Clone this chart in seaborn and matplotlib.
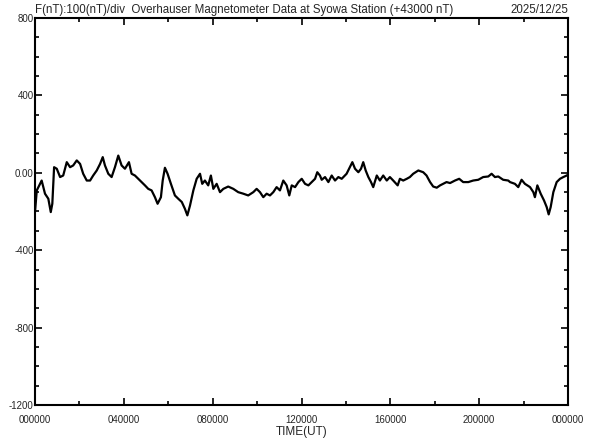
import matplotlib
matplotlib.use("Agg")
import matplotlib.pyplot as plt
import pandas as pd
import seaborn as sns
from matplotlib.ticker import FixedLocator, FixedFormatter, MultipleLocator

# Total field F minus 43000 nT (time in hours UT)
hours = [
    0.00, 0.08, 0.30, 0.45, 0.60, 0.71, 0.78, 0.86, 0.98, 1.13, 1.27, 1.43, 1.58, 1.72,
    1.88, 2.03, 2.17, 2.33, 2.48, 2.62, 2.78, 2.93, 3.05, 3.15, 3.30, 3.45, 3.60, 3.75,
    3.90, 4.05, 4.23, 4.35, 4.50, 4.65, 4.80, 4.95, 5.10, 5.25, 5.40, 5.52, 5.67, 5.75,
    5.85, 5.97, 6.12, 6.30, 6.45, 6.61, 6.75, 6.86, 6.98, 7.13, 7.28, 7.43, 7.53, 7.65,
    7.80, 7.92, 8.03, 8.18, 8.33, 8.48, 8.70, 8.93, 9.15, 9.38, 9.60, 9.83, 9.98, 10.13,
    10.28, 10.43, 10.58, 10.73, 10.88, 11.03, 11.18, 11.33, 11.45, 11.56, 11.71, 11.86,
    12.01, 12.16, 12.31, 12.46, 12.61, 12.71, 12.83, 12.91, 13.06, 13.21, 13.36, 13.51,
    13.66, 13.81, 14.03, 14.18, 14.29, 14.41, 14.56, 14.68, 14.78, 14.89, 15.01, 15.13,
    15.23, 15.39, 15.53, 15.68, 15.84, 15.98, 16.13, 16.33, 16.43, 16.58, 16.74, 16.88,
    17.03, 17.26, 17.48, 17.63, 17.79, 17.93, 18.09, 18.24, 18.38, 18.53, 18.69, 18.91,
    19.10, 19.28, 19.51, 19.73, 19.96, 20.18, 20.41, 20.56, 20.71, 20.86, 21.08, 21.31,
    21.39, 21.61, 21.76, 21.91, 22.06, 22.29, 22.44, 22.51, 22.62, 22.77, 22.92, 23.04,
    23.13, 23.22, 23.34, 23.49, 23.64, 23.79, 23.94, 24.00,
]
field = [
    -203, -91, -40, -108, -134, -203, -160, 29, 21, -22, -14, 55, 29, 38,
    64, 46, -5, -40, -40, -14, 12, 46, 81, 38, -5, -22, 29, 89,
    38, 21, 55, -5, -14, -31, -48, -65, -83, -91, -126, -160, -126, -40,
    26, -5, -57, -117, -134, -151, -186, -220, -169, -91, -31, -5, -57, -40,
    -65, -14, -83, -57, -100, -83, -71, -83, -100, -108, -117, -100, -83, -100,
    -126, -108, -117, -100, -74, -91, -40, -65, -117, -65, -74, -48,
    -31, -57, -65, -48, -31, 3, -14, -36, -22, -48, -14, -40,
    -22, -31, -5, 29, 55, 21, 3, 21, 55, 12, -22, -48,
    -74, -14, -40, -14, -40, -22, -40, -65, -31, -40, -31, -22,
    -5, 12, 3, -14, -48, -71, -77, -65, -57, -48, -53, -40,
    -31, -48, -48, -40, -36, -22, -19, -5, -22, -19, -36, -40,
    -48, -57, -74, -36, -57, -74, -100, -126, -65, -108, -143, -177,
    -215, -177, -100, -48, -31, -22, -14, -10,
]

x_ticks = [0, 4, 8, 12, 16, 20, 24]
x_labels = ["000000", "040000", "080000", "120000", "160000", "200000", "000000"]
y_ticks = [-1200, -800, -400, 0, 400, 800]
y_labels = ["-1200", "-800", "-400", "0.00", "400", "800"]

title_text = "F(nT):100(nT)/div  Overhauser Magnetometer Data at Syowa Station (+43000 nT)"
date_text = "2025/12/25"

sns.set_style("ticks")
plt.rcParams["font.family"] = ["Liberation Sans", "DejaVu Sans"]

df = pd.DataFrame({"hour": hours, "F": field})

fig = plt.figure(figsize=(5.92, 4.40), dpi=100)
ax = fig.add_axes([35 / 592, 1 - 405 / 440, 533 / 592, 387 / 440])
sns.lineplot(data=df, x="hour", y="F", color="black", linewidth=1.6, ax=ax)

ax.set_xlim(0, 24)
ax.set_ylim(-1200, 800)
ax.xaxis.set_major_locator(FixedLocator(x_ticks))
ax.xaxis.set_major_formatter(FixedFormatter(x_labels))
ax.xaxis.set_minor_locator(MultipleLocator(2))
ax.yaxis.set_major_locator(FixedLocator(y_ticks))
ax.yaxis.set_major_formatter(FixedFormatter(y_labels))
ax.yaxis.set_minor_locator(MultipleLocator(100))

for side in ["left", "right", "top", "bottom"]:
    ax.spines[side].set_visible(True)
    ax.spines[side].set_linewidth(1.5)
    ax.spines[side].set_color("black")

ax.tick_params(which="both", direction="in", top=True, right=True, color="black", width=1.2)
ax.tick_params(which="major", length=5, labelsize=7, pad=1)
ax.tick_params(which="minor", length=3)
ax.tick_params(axis="x", which="major", pad=7)

ax.set_xlabel("TIME(UT)", fontsize=8.5, labelpad=1)
ax.set_ylabel("")

ax.text(0, 1.005, title_text, transform=ax.transAxes, fontsize=8.3,
        ha="left", va="bottom")
ax.text(1, 1.005, date_text, transform=ax.transAxes, fontsize=8.3,
        ha="right", va="bottom")

fig.savefig("out.png", dpi=100)
plt.close(fig)
